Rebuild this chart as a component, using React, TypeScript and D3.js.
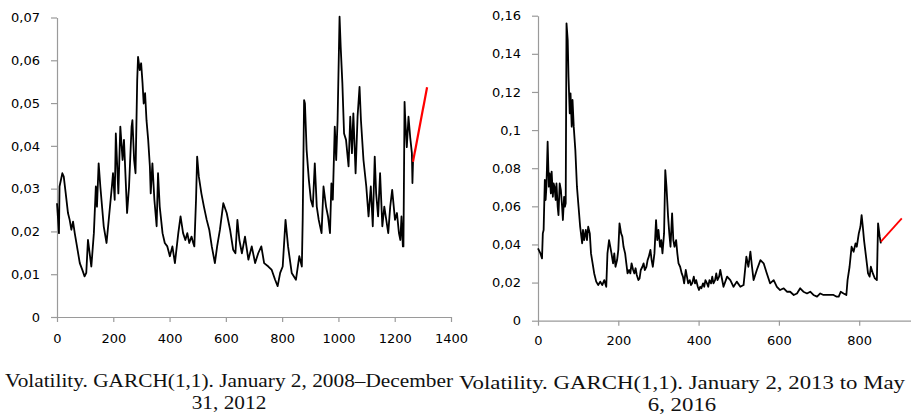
import React, { useRef, useEffect } from 'react';
import * as d3 from 'd3';

type Pt = [number, number];

// GARCH(1,1) volatility, 2008-2012 (day index, volatility)
const vol2008: Pt[] = [
  [0, 0.0266], [7, 0.0196], [9, 0.0305], [19, 0.0336], [24, 0.0328], [31, 0.0289], [39, 0.0243],
  [45, 0.0227], [51, 0.0204], [57, 0.0223], [63, 0.0196], [71, 0.0165], [81, 0.0126], [90, 0.011],
  [98, 0.0095], [104, 0.0103], [110, 0.018], [122, 0.0118], [131, 0.0196], [138, 0.0305], [142, 0.0258],
  [148, 0.0359], [154, 0.0305], [166, 0.0212], [176, 0.0173], [185, 0.0235], [195, 0.0305], [199, 0.0336],
  [205, 0.0274], [209, 0.0429], [218, 0.0289], [225, 0.0445], [233, 0.0367], [238, 0.0414], [249, 0.0243],
  [256, 0.0305], [265, 0.0445], [268, 0.046], [274, 0.0367], [279, 0.0336], [282, 0.0445], [285, 0.0554],
  [288, 0.0608], [294, 0.0577], [299, 0.0593], [304, 0.0546], [308, 0.0499], [313, 0.0523], [318, 0.046],
  [324, 0.0414], [330, 0.0352], [333, 0.0289], [339, 0.0359], [346, 0.0274], [354, 0.0212], [359, 0.0336],
  [365, 0.0258], [375, 0.0196], [383, 0.0173], [392, 0.0165], [401, 0.0142], [410, 0.0165], [419, 0.0126],
  [431, 0.0196], [439, 0.0235], [448, 0.0196], [456, 0.018], [463, 0.0196], [470, 0.0173], [478, 0.0188],
  [484, 0.0173], [488, 0.0165], [494, 0.0274], [498, 0.0375], [504, 0.0328], [513, 0.0289], [522, 0.0258],
  [532, 0.0227], [541, 0.0204], [550, 0.0165], [561, 0.0126], [569, 0.0165], [579, 0.0204], [591, 0.0266],
  [603, 0.0243], [615, 0.0204], [626, 0.0157], [634, 0.0149], [641, 0.0227], [648, 0.018], [657, 0.0149],
  [668, 0.0188], [680, 0.0134], [692, 0.0165], [704, 0.0126], [715, 0.0149], [726, 0.0165], [736, 0.0126],
  [751, 0.0118], [763, 0.011], [775, 0.0087], [784, 0.0072], [793, 0.0103], [802, 0.0118], [812, 0.0227],
  [821, 0.0165], [834, 0.0103], [849, 0.0087], [861, 0.0142], [870, 0.0118], [873, 0.0227], [878, 0.0507],
  [881, 0.0499], [887, 0.039], [895, 0.032], [902, 0.0274], [909, 0.0258], [916, 0.0359], [923, 0.0258],
  [930, 0.0227], [940, 0.0196], [947, 0.0305], [956, 0.0258], [963, 0.0235], [970, 0.0196], [975, 0.0312],
  [980, 0.0274], [987, 0.0445], [992, 0.0367], [997, 0.046], [1004, 0.0702], [1008, 0.0632], [1014, 0.0546],
  [1020, 0.0429], [1027, 0.0414], [1036, 0.0352], [1042, 0.0468], [1048, 0.0383], [1053, 0.0476], [1061, 0.0336],
  [1068, 0.0468], [1075, 0.0538], [1080, 0.046], [1089, 0.0367], [1099, 0.0305], [1107, 0.0235], [1115, 0.0305],
  [1122, 0.0212], [1129, 0.0375], [1134, 0.0289], [1141, 0.0235], [1148, 0.0336], [1156, 0.0212], [1163, 0.0258],
  [1170, 0.0227], [1177, 0.0196], [1184, 0.0258], [1191, 0.0297], [1201, 0.0227], [1208, 0.0243], [1215, 0.0196],
  [1220, 0.018], [1224, 0.0235], [1229, 0.0165], [1231, 0.0165], [1235, 0.0503], [1237, 0.0468], [1243, 0.0397],
  [1249, 0.0468], [1255, 0.042], [1261, 0.0383], [1263, 0.0313], [1265, 0.0363],
];
const forecast2008: Pt[] = [[1265, 0.0363], [1315, 0.0537]];

// GARCH(1,1) volatility, 2013-2016
const vol2013: Pt[] = [
  [0, 0.0379], [6, 0.0353], [10, 0.0327], [12, 0.0458], [14, 0.0476], [17, 0.0738], [19, 0.0633], [21, 0.0703],
  [24, 0.0939], [27, 0.0703], [29, 0.0773], [32, 0.0668], [34, 0.0782], [37, 0.065], [39, 0.072], [41, 0.0703],
  [44, 0.0633], [46, 0.072], [49, 0.0598], [51, 0.0554], [54, 0.072], [57, 0.0685], [60, 0.0598], [62, 0.0528],
  [65, 0.065], [67, 0.0598], [69, 0.0616], [71, 0.156], [74, 0.1472], [76, 0.128], [79, 0.1088], [81, 0.1193],
  [84, 0.1018], [86, 0.1158], [89, 0.1018], [93, 0.0895], [97, 0.0703], [101, 0.0598], [105, 0.0493], [110, 0.0406],
  [112, 0.0476], [115, 0.0423], [119, 0.0476], [122, 0.0423], [125, 0.0493], [129, 0.0458], [132, 0.0353],
  [136, 0.0301], [140, 0.0248], [145, 0.0205], [150, 0.0187], [155, 0.0205], [160, 0.0187], [165, 0.0213],
  [170, 0.0178], [173, 0.0353], [177, 0.0423], [180, 0.0388], [183, 0.0353], [187, 0.0301], [190, 0.0353],
  [193, 0.0283], [197, 0.0318], [200, 0.0371], [203, 0.0511], [207, 0.0458], [210, 0.0441], [213, 0.0388],
  [217, 0.0353], [220, 0.0301], [223, 0.0248], [227, 0.0266], [230, 0.0248], [233, 0.0301], [237, 0.0266],
  [240, 0.0248], [243, 0.0275], [246, 0.024], [250, 0.0213], [253, 0.0222], [256, 0.0266], [260, 0.0283],
  [263, 0.0301], [266, 0.0266], [270, 0.0283], [273, 0.0318], [276, 0.0336], [280, 0.0371], [283, 0.0318],
  [286, 0.0283], [290, 0.0353], [294, 0.0528], [297, 0.0423], [300, 0.0476], [304, 0.0388], [307, 0.0423],
  [310, 0.0353], [314, 0.0458], [317, 0.079], [320, 0.0703], [324, 0.0546], [327, 0.0458], [330, 0.0388],
  [334, 0.0563], [337, 0.0423], [340, 0.0388], [344, 0.0423], [347, 0.0353], [350, 0.0301], [354, 0.0283],
  [358, 0.0248], [361, 0.0231], [364, 0.0196], [368, 0.0266], [371, 0.0231], [374, 0.0196], [378, 0.0213],
  [381, 0.0187], [384, 0.0196], [388, 0.0231], [391, 0.0196], [394, 0.0213], [398, 0.0178], [401, 0.0161],
  [404, 0.0178], [407, 0.017], [411, 0.0196], [414, 0.0178], [417, 0.0213], [421, 0.0196], [424, 0.0178],
  [427, 0.0213], [431, 0.0196], [434, 0.0231], [437, 0.0196], [441, 0.0213], [444, 0.0248], [447, 0.0213],
  [451, 0.0231], [454, 0.0266], [462, 0.0178], [471, 0.0231], [479, 0.0213], [487, 0.0178], [495, 0.0205],
  [504, 0.0178], [512, 0.0187], [519, 0.0336], [524, 0.0283], [529, 0.0362], [533, 0.0283], [537, 0.0213],
  [545, 0.0266], [554, 0.0318], [562, 0.0301], [570, 0.0248], [578, 0.0196], [587, 0.0213], [595, 0.0178],
  [603, 0.0161], [612, 0.017], [620, 0.0152], [628, 0.0152], [637, 0.0135], [645, 0.0143], [653, 0.017],
  [661, 0.0152], [670, 0.0143], [678, 0.0152], [686, 0.0135], [695, 0.0126], [703, 0.0143], [711, 0.0135],
  [720, 0.0135], [728, 0.0135], [736, 0.0135], [744, 0.0126], [749, 0.0126], [754, 0.0152], [761, 0.0143],
  [768, 0.0135], [771, 0.0213], [776, 0.0283], [781, 0.0388], [786, 0.0362], [791, 0.0406], [794, 0.0388],
  [799, 0.0458], [803, 0.0493], [806, 0.0554], [809, 0.0493], [812, 0.0423], [817, 0.0336], [822, 0.0248],
  [826, 0.0231], [829, 0.0283], [834, 0.0248], [839, 0.0222], [844, 0.0213], [847, 0.0511], [851, 0.0441],
  [854, 0.0406],
];
const forecast2013: Pt[] = [[854, 0.0415], [906, 0.0537]];

const ticks2008X = [0, 200, 400, 600, 800, 1000, 1200, 1400];
const ticks2008Y = [0, 0.01, 0.02, 0.03, 0.04, 0.05, 0.06, 0.07];
const ticks2013X = [0, 200, 400, 600, 800];
const ticks2013Y = [0, 0.02, 0.04, 0.06, 0.08, 0.1, 0.12, 0.14, 0.16];

const caption2008 = ['Volatility. GARCH(1,1). January 2, 2008–December', '31, 2012'];
const caption2013 = ['Volatility. GARCH(1,1). January 2, 2013 to May', '6, 2016'];

const W = 911;
const H = 415;

const fmt = (d: number) => (d === 0 ? '0' : String(+d.toFixed(2)).replace('.', ','));

interface PanelSpec {
  series: Pt[];
  forecast: Pt[];
  xDomain: [number, number];
  xRange: [number, number];
  yDomain: [number, number];
  yRange: [number, number];
  xTicks: number[];
  yTicks: number[];
  xPad: number;
  caption: string[];
  capX: number;
  capY: number;
  capWidth: number;
  redWidth: number;
}

const panels: PanelSpec[] = [
  {
    series: vol2008, forecast: forecast2008,
    xDomain: [0, 1400], xRange: [57, 451],
    yDomain: [0, 0.07], yRange: [317, 17.5],
    xTicks: ticks2008X, yTicks: ticks2008Y, xPad: 12,
    caption: caption2008, capX: 229, capY: 387, capWidth: 448, redWidth: 2.2,
  },
  {
    series: vol2013, forecast: forecast2013,
    xDomain: [0, 930], xRange: [538, 911.4],
    yDomain: [0, 0.16], yRange: [320.7, 15.7],
    xTicks: ticks2013X, yTicks: ticks2013Y, xPad: 10,
    caption: caption2013, capX: 682, capY: 389, capWidth: 446, redWidth: 1.8,
  },
];

const App: React.FC = () => {
  const svgRef = useRef<SVGSVGElement | null>(null);

  useEffect(() => {
    if (!svgRef.current) return;
    const svg = d3.select(svgRef.current);
    svg.selectAll('*').remove();

    panels.forEach((p) => {
      const x = d3.scaleLinear().domain(p.xDomain).range(p.xRange);
      const y = d3.scaleLinear().domain(p.yDomain).range(p.yRange);
      const g = svg.append('g');

      // axes
      const yAxis = g.append('g')
        .attr('transform', `translate(${p.xRange[0]},0)`)
        .call(d3.axisLeft(y).tickValues(p.yTicks).tickFormat(d => fmt(+d)).tickSize(6).tickSizeOuter(0).tickPadding(11));
      const xAxis = g.append('g')
        .attr('transform', `translate(0,${p.yRange[0]})`)
        .call(d3.axisBottom(x).tickValues(p.xTicks).tickFormat(d => String(d)).tickSize(5).tickSizeOuter(0).tickPadding(p.xPad));

      [yAxis, xAxis].forEach(a => {
        a.select('.domain').attr('stroke', '#9a9a9a').attr('stroke-width', 1.2);
        a.selectAll('.tick line').attr('stroke', '#9a9a9a').attr('stroke-width', 1.2);
        a.selectAll('.tick text')
          .attr('fill', '#000')
          .attr('font-family', 'DejaVu Sans, Verdana, sans-serif')
          .attr('font-size', 13);
      });

      const line = d3.line<Pt>().x(d => x(d[0])).y(d => y(d[1]));

      g.append('path')
        .datum(p.series)
        .attr('fill', 'none')
        .attr('stroke', '#000')
        .attr('stroke-width', 1.8)
        .attr('stroke-linejoin', 'round')
        .attr('d', line);

      g.append('path')
        .datum(p.forecast)
        .attr('fill', 'none')
        .attr('stroke', '#ff0000')
        .attr('stroke-width', p.redWidth)
        .attr('d', line);

      // caption under the chart, two separate lines stretched a little wider like the source
      let stretch = 1;
      p.caption.forEach((t, i) => {
        const txt = g.append('text')
          .attr('x', p.capX)
          .attr('y', p.capY + i * 22)
          .attr('text-anchor', 'middle')
          .attr('font-family', 'Liberation Serif, Times New Roman, serif')
          .attr('font-size', 19.5)
          .attr('fill', '#111')
          .text(t);
        const natural = (txt.node() as SVGTextElement).getComputedTextLength();
        if (i === 0) stretch = p.capWidth / natural;
        txt.attr('textLength', natural * stretch).attr('lengthAdjust', 'spacingAndGlyphs');
      });
    });
  }, []);

  return (
    <svg
      ref={svgRef}
      width={W}
      height={H}
      style={{ position: 'absolute', left: 0, top: 0, background: '#fff' }}
    />
  );
};

export default App;
